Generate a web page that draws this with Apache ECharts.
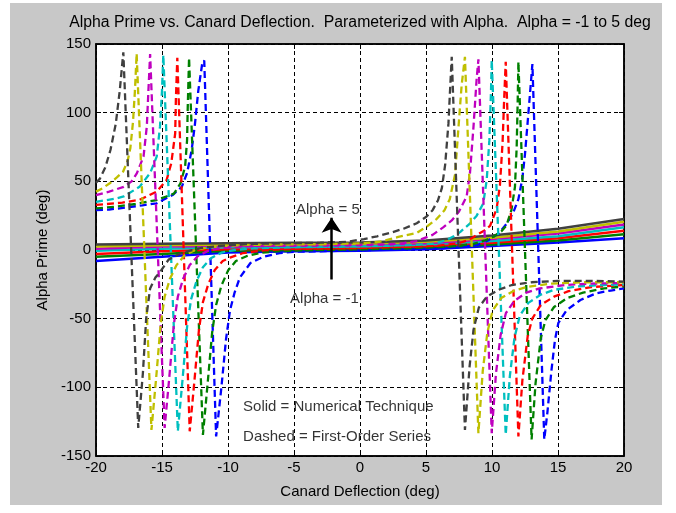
<!DOCTYPE html>
<html><head><meta charset="utf-8">
<script src="https://cdn.jsdelivr.net/npm/echarts@6/dist/echarts.min.js"></script>
<style>
html,body{margin:0;padding:0;background:#fff;}
#bg{position:absolute;left:10px;top:3px;width:652px;height:502px;background:#c8c8c8;}
#c{position:absolute;left:0;top:0;width:676px;height:513px;}
</style></head>
<body><div id="bg"></div><div id="c"></div>
<script>
// ---- data ----
const xTicks = [-20,-15,-10,-5,0,5,10,15,20];
const yTicks = [-150,-100,-50,0,50,100,150];
const alphas = [-1,0,1,2,3,4,5];
const seriesColors = ['#0000ff','#008000','#ff0000','#00bfbf','#bf00bf','#bfbf00','#404040'];

// Solid = Numerical Technique (values at xTicks)
const solidAm1 = [-8,-5,-1.8,-1,-0.5,0.5,3,5.5,8.5];
const solidA0  = [-5,-3,-0.5,0,0.5,1.8,4,7,11.5];
const solidA1  = [-3,-1,0.5,1,1.5,2.8,5.2,8.5,14];
const solidA2  = [-0.5,1,2,2.2,2.5,4,6.5,10,16.5];
const solidA3  = [1,2.5,3,3.2,3.5,5,8,12,18.5];
const solidA4  = [2.5,3.5,4,4.2,4.5,6,9,13.5,20.5];
const solidA5  = [4,4.5,5,5.2,5.5,7,10.5,15.5,22.5];

// Dashed = First-Order Series ([deflection, alpha prime])
const dashAm1 = [[-20,29],[-19,29.5],[-17.95,30.6],[-16.5,32.5],[-15.4,34],[-14.2,40],[-13.5,46],[-13.1,56],[-12.75,73],[-12.5,92],[-12.25,116],[-11.95,136],[-11.8,138],
  [-10.9,-135.8],[-10.5,-100],[-10.15,-65],[-9.85,-44],[-9.5,-31],[-9.1,-20],[-8.3,-9.5],[-7.35,-5],[-6.1,-2.3],[-5,-1.3],[-3,-0.9],[-1,-0.6],[1,0],[3,0.4],[6,1],[8,2.5],[9,4],[9.7,7],[10.5,12],[11.1,19],[11.6,27],[12.0,37],[12.3,52],[12.5,70],[12.7,93],[12.88,114],[13.06,135.4],
  [13.96,-138],[14.2,-118],[14.5,-88],[14.77,-65.5],[15.03,-53],[15.66,-43.7],[16.7,-36.4],[17.9,-31.5],[19,-29.5],[20,-28]];
const dashA0 = [[-20,30.3],[-18.5,31.5],[-17,33.5],[-15.4,36.4],[-14.1,41],[-13.6,48.5],[-13.25,60.6],[-13.1,80],[-13.05,104],[-12.95,140],
  [-11.9,-134.6],[-11.55,-98],[-11.2,-60],[-10.9,-40],[-10.5,-26],[-10.0,-15],[-9.4,-8],[-8.6,-4.5],[-7.5,-2],[-6,-0.8],[-4,-0.2],[-2,0.2],[0,0.5],[2,1],[4,1.4],[6,2.2],[7.5,3],[8.6,4.5],[9.5,7],[10.1,9.7],[10.7,13.5],[11.1,18],[11.47,29],[11.74,46],[11.87,75],[11.95,110],[12.0,137],
  [13.0,-138],[13.3,-97],[13.7,-64],[14.05,-51],[14.7,-41.5],[15.7,-35],[16.9,-31],[18.5,-28],[20,-26.5]];
const dashA1 = [[-20,32.8],[-18,34.5],[-16.7,36.5],[-15.4,42.5],[-14.65,51],[-14.3,63],[-14.0,85],[-13.95,109],[-13.84,140],
  [-12.9,-132],[-12.55,-96],[-12.2,-58],[-11.9,-38],[-11.5,-25],[-11.0,-14.5],[-10.4,-8],[-9.85,-5.5],[-8.85,-2.2],[-7.35,-0.3],[-6,0.5],[-4,0.9],[-2,1.1],[0,1.5],[2,2],[4,2.4],[6,3.2],[7.5,5],[8.3,7.5],[8.84,11],[9.4,14],[9.85,17.5],[10.35,30],[10.6,47],[10.8,78],[10.93,112],[11.04,137],
  [12.0,-135.8],[12.3,-95],[12.7,-63],[13.05,-50],[13.7,-40],[14.7,-34],[15.8,-30],[17.5,-27],[20,-25.5]];
const dashA2 = [[-20,35],[-18.5,37.5],[-17.9,39],[-16.7,46],[-15.9,56],[-15.4,68],[-15.15,90],[-15.0,116],[-14.9,142],
  [-13.8,-132],[-13.45,-95],[-13.1,-56],[-12.8,-36],[-12.4,-23],[-11.9,-12.5],[-11.3,-6],[-10.5,-2],[-9.5,0],[-8,1.2],[-6,1.8],[-4,2.1],[-2,2.3],[0,2.6],[2,3],[4,3.6],[5.5,4.5],[6.5,7],[7.1,10],[7.58,13],[8.3,19],[8.84,25],[9.34,34],[9.6,51],[9.8,80],[9.92,114],[9.98,138.3],
  [11.04,-134.6],[11.35,-92],[11.7,-64],[12.1,-48],[12.75,-38.5],[13.7,-32.5],[14.7,-29],[16.5,-26.5],[18.5,-25.5],[20,-25]];
const dashA3 = [[-20,40],[-19,42.5],[-17.9,46],[-17.3,50],[-16.9,56],[-16.4,68],[-16.15,90],[-16.03,116],[-15.9,142.6],
  [-14.8,-129.5],[-14.45,-93],[-14.1,-54],[-13.8,-34],[-13.4,-21],[-12.9,-11],[-12.3,-4.5],[-11.5,-0.5],[-10.5,1.5],[-9,2.5],[-7,3],[-4,3.2],[-1,3.6],[1,3.9],[3,4.5],[4.3,6.5],[5.5,11],[6.3,16.5],[6.95,21.5],[7.5,28],[8.08,39],[8.33,56],[8.6,90],[8.84,125],[8.97,138.8],
  [9.98,-133.4],[10.3,-90],[10.65,-62],[11.05,-46],[11.7,-37],[12.6,-31],[13.6,-28],[15.5,-25.5],[17.5,-24.5],[20,-24]];
const dashA4 = [[-20,42.5],[-19.5,45],[-18.9,49],[-18.4,53],[-17.95,57],[-17.6,65],[-17.4,74],[-17.2,93],[-17.05,116],[-16.92,143],
  [-15.8,-131],[-15.45,-94],[-15.1,-54],[-14.8,-34],[-14.4,-21],[-13.9,-11],[-13.3,-4],[-12.5,0],[-11.5,2],[-10.3,3],[-8.5,3.7],[-6,4],[-3,4.2],[0,4.8],[1.5,6],[2.9,9.5],[4.3,12.5],[5.05,17],[5.8,22.5],[6.4,29],[6.8,37],[7.2,55],[7.45,88],[7.7,120],[7.95,140.7],
  [8.97,-133.4],[9.3,-88],[9.65,-60],[10.05,-44],[10.7,-35],[11.6,-30],[12.6,-27],[14.5,-24.5],[17,-23.5],[20,-23.5]];
const dashA5 = [[-20,49],[-19.7,52],[-19.3,60],[-18.9,73],[-18.5,92],[-18.2,116],[-17.93,144],
  [-16.8,-129.5],[-16.45,-90],[-16.2,-50],[-15.9,-28],[-15.5,-20],[-15.15,-16],[-14.5,-7],[-13.5,-2],[-12,1.5],[-10,3.5],[-8,4.5],[-5,5],[-3,5.3],[-1,6],[0.3,8],[1.3,10],[2.3,12.5],[3.3,15.5],[4.3,19.5],[5.0,24],[5.5,29],[5.9,36],[6.2,45],[6.45,62],[6.7,92],[6.82,116],[6.95,140.7],
  [7.95,-131],[8.3,-85],[8.6,-58],[9.0,-42],[9.6,-34],[10.5,-29],[11.5,-25.5],[13,-23.5],[15,-22.5],[17.5,-22.5],[20,-23]];

const titleText = 'Alpha Prime vs. Canard Deflection.  Parameterized with Alpha.  Alpha = -1 to 5 deg';
const xName = 'Canard Deflection (deg)';
const yName = 'Alpha Prime (deg)';
const noteTexts = ['Alpha = 5','Alpha = -1','Solid = Numerical Technique','Dashed = First-Order Series'];

// ---- layout (positions, styles) ----
const FONT = "'Liberation Sans', Arial, sans-serif";
const notePos = [[-4.85,29],[-5.3,-35.7],[-8.86,-114.5],[-8.86,-136.4]];
const arrowCoords = [[-2.15,-21.5],[-2.15,23.5]];

const solids = [solidAm1,solidA0,solidA1,solidA2,solidA3,solidA4,solidA5];
const dashes = [dashAm1,dashA0,dashA1,dashA2,dashA3,dashA4,dashA5];

const series = [];
solids.forEach((ys,i)=>{
  series.push({type:'line', name:'solid '+alphas[i], data: xTicks.map((x,j)=>[x,ys[j]]),
    showSymbol:false, symbol:'none', lineStyle:{color:seriesColors[i], width:2.5}, z:2, silent:true});
});
dashes.forEach((pts,i)=>{
  series.push({type:'line', name:'dashed '+alphas[i], data: pts,
    showSymbol:false, symbol:'none', lineStyle:{color:seriesColors[i], width:2.3, type:[7,4]}, z:3, silent:true});
});
series.push({type:'scatter', symbolSize:0, z:5, silent:true,
  data: noteTexts.map((t,i)=>({value:notePos[i], label:{formatter:t}})),
  label:{show:true, position:'right', distance:0, color:'#000', fontSize:15, fontFamily:FONT}});
series.push({type:'lines', coordinateSystem:'cartesian2d', z:5, silent:true,
  symbol:['none','arrow'], symbolSize:[9,15],
  lineStyle:{color:'#000', width:2.5, opacity:1},
  data:[{coords: arrowCoords}]});

const chart = echarts.init(document.getElementById('c'), null, {renderer:'canvas'});
chart.setOption({
  animation:false,
  backgroundColor:'transparent',
  textStyle:{fontFamily:FONT},
  grid:{left:96, top:44, width:528, height:412, show:true, backgroundColor:'#fff', borderColor:'#000', borderWidth:1.5},
  graphic:[{type:'text', x:360, y:23, style:{text:titleText, fill:'#000', font:'15.8px '+FONT, textAlign:'center', textVerticalAlign:'middle'}}],
  xAxis:[{type:'value', min:-20, max:20, interval:5, position:'bottom',
      name:xName, nameLocation:'middle', nameGap:28, nameTextStyle:{fontSize:15, color:'#000', fontFamily:FONT},
      axisLine:{show:true, onZero:false, lineStyle:{color:'#000', width:1.5}},
      axisTick:{show:true, inside:true, length:5, lineStyle:{color:'#000'}},
      axisLabel:{show:true, margin:4, fontSize:15, color:'#000', fontFamily:FONT},
      splitLine:{show:true, lineStyle:{color:'#000', width:1, type:[4,3]}}},
    {type:'value', min:-20, max:20, interval:5, position:'top',
      axisLine:{show:true, onZero:false, lineStyle:{color:'#000', width:1.5}},
      axisTick:{show:true, inside:true, length:5, lineStyle:{color:'#000'}},
      axisLabel:{show:false}, splitLine:{show:false}}],
  yAxis:[{type:'value', min:-150, max:150, interval:50, position:'left',
      name:yName, nameLocation:'middle', nameGap:40, nameRotate:90, nameTextStyle:{fontSize:15, color:'#000', fontFamily:FONT},
      axisLine:{show:true, onZero:false, lineStyle:{color:'#000', width:1.5}},
      axisTick:{show:true, inside:true, length:5, lineStyle:{color:'#000'}},
      axisLabel:{show:true, margin:5, fontSize:15, color:'#000', fontFamily:FONT},
      splitLine:{show:true, lineStyle:{color:'#000', width:1, type:[4,3]}}},
    {type:'value', min:-150, max:150, interval:50, position:'right',
      axisLine:{show:true, onZero:false, lineStyle:{color:'#000', width:1.5}},
      axisTick:{show:true, inside:true, length:5, lineStyle:{color:'#000'}},
      axisLabel:{show:false}, splitLine:{show:false}}],
  series: series
});
</script></body></html>
